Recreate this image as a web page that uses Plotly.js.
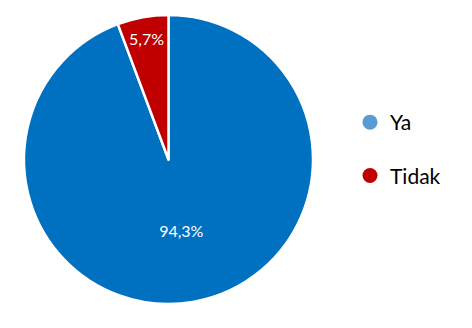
<!DOCTYPE html>
<html>
<head>
<meta charset="utf-8">
<script src="https://cdn.plot.ly/plotly-3.0.1.min.js"></script>
<style>html,body{margin:0;padding:0;background:#fff;}#chart{width:472px;height:328px;}</style>
</head>
<body>
<div id="chart"></div>
<script>
const categories = ["Ya", "Tidak"];
const values = [94.3, 5.7];
const sliceColors = ["#0070C0", "#C00000"];
const legendColors = ["#5B9BD5", "#C00000"];

const traces = [{
  type: "pie",
  labels: categories,
  values: values,
  sort: false,
  direction: "clockwise",
  rotation: 0,
  marker: {colors: sliceColors, line: {color: "#FFFFFF", width: 2.5}},
  texttemplate: "%{percent:.1%}",
  textposition: "inside",
  insidetextorientation: "horizontal",
  textfont: {family: "Lato, 'Open Sans', sans-serif", size: 16, color: "#FFFFFF"},
  hoverinfo: "label+percent",
  showlegend: false,
  domain: {x: [24/472, 313/472], y: [24/328, 313/328]}
}];
categories.forEach((c, i) => {
  traces.push({
    type: "scatter", mode: "markers", x: [null], y: [null], name: c,
    legendgroup: "g" + i,
    marker: {symbol: "circle", size: 15, color: legendColors[i]},
    showlegend: true, hoverinfo: "skip"
  });
});

const layout = {
  width: 472, height: 328,
  margin: {l: 0, r: 0, t: 0, b: 0},
  paper_bgcolor: "#FFFFFF", plot_bgcolor: "rgba(0,0,0,0)",
  separators: ",.",
  xaxis: {visible: false}, yaxis: {visible: false},
  showlegend: true,
  legend: {
    x: 350/472, xanchor: "left", y: 1 - 102/328, yanchor: "top",
    font: {family: "Lato, 'Open Sans', sans-serif", size: 21, color: "#000000"},
    tracegroupgap: 23, bgcolor: "rgba(0,0,0,0)", itemclick: false, itemdoubleclick: false
  }
};
Plotly.newPlot("chart", traces, layout, {staticPlot: true, displayModeBar: false});
</script>
</body>
</html>
